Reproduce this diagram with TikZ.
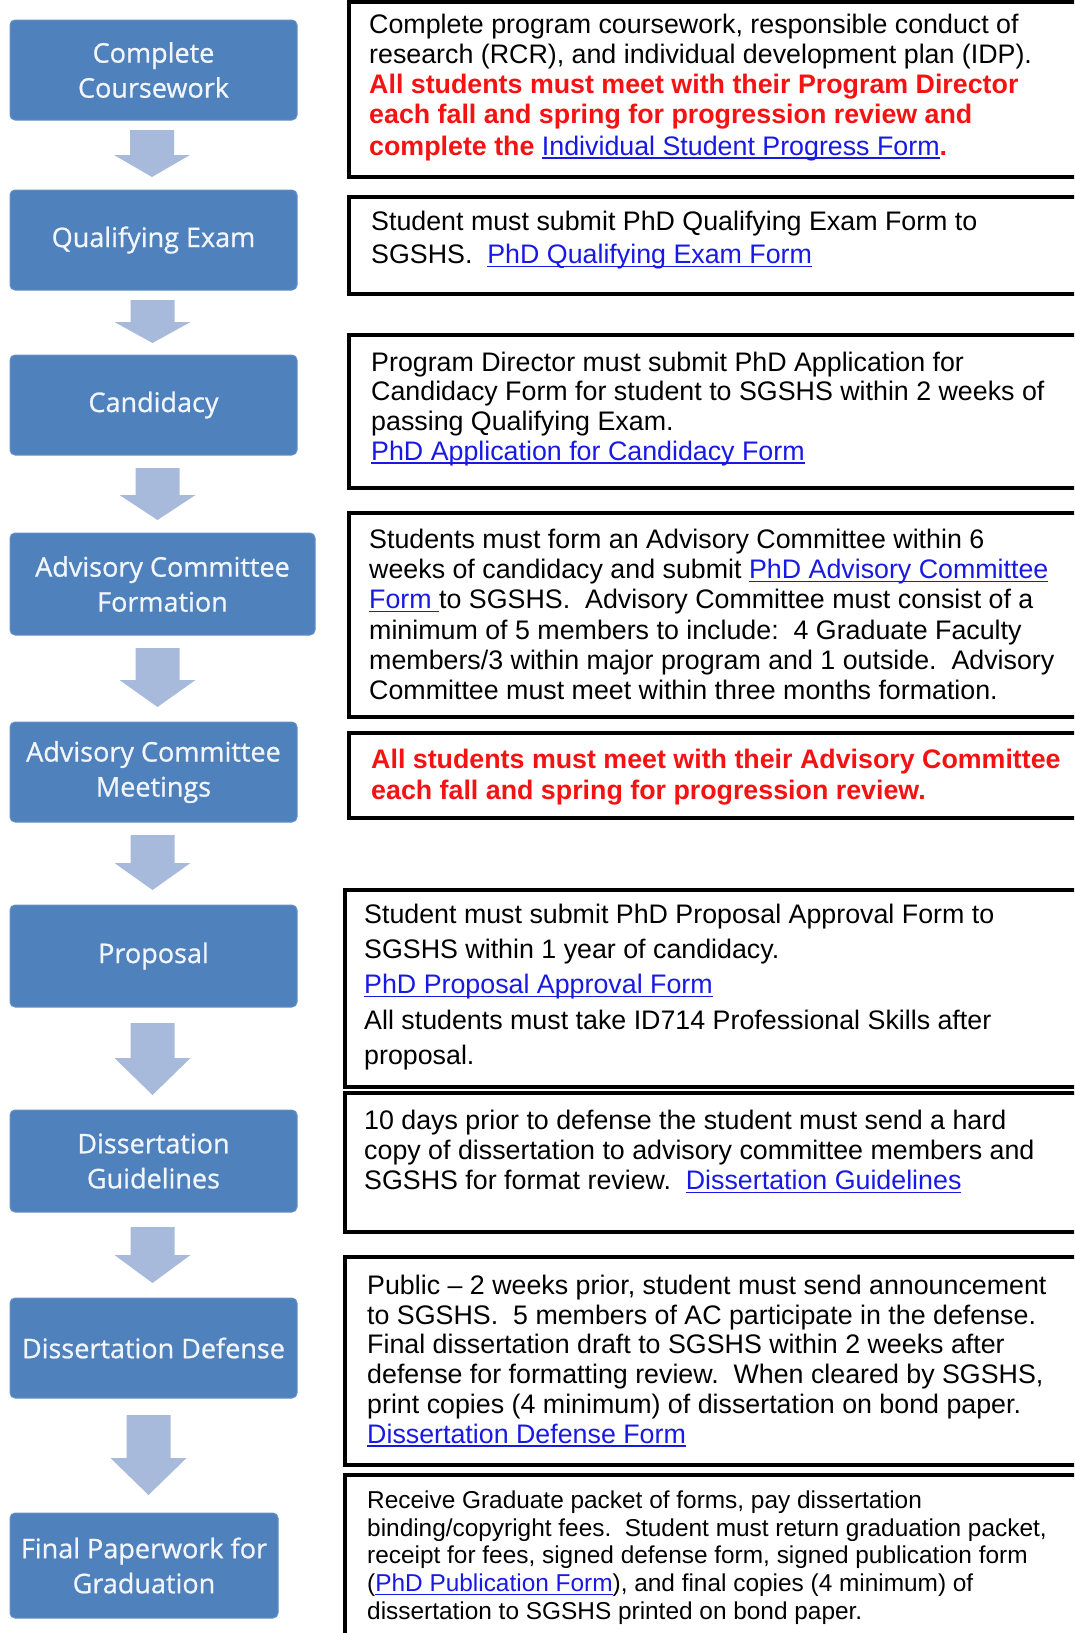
\documentclass[tikz,border=0pt]{standalone}
\usepackage{fontspec}
\setmainfont{Liberation Sans}
\newfontfamily\stepfont[FakeBold=0.8]{Open Sans}
\frenchspacing
\definecolor{stepblue}{RGB}{79,129,189}
\definecolor{stepedge}{RGB}{100,145,200}
\definecolor{arrowblue}{RGB}{167,186,219}
\definecolor{redtxt}{RGB}{245,18,18}
\definecolor{linkc}{RGB}{25,25,230}
\newsavebox{\lnkbox}
\newcommand\lnk[1]{{\color{linkc}\sbox{\lnkbox}{#1}\rlap{\rule[-3.5pt]{\wd\lnkbox}{1.5pt}}\usebox{\lnkbox}}}
\newcommand\rb[1]{{\bfseries\color{redtxt}#1}}
\newcommand\blockarrow[4]{%
  \fill[arrowblue] (#1-22,#2) -- (#1+22,#2) -- (#1+22,#3) -- (#1+38,#3) -- (#1,#4) -- (#1-38,#3) -- (#1-22,#3) -- cycle;}
\tikzset{
  stepbox/.style={fill=stepblue, draw=stepedge, line width=1pt, rounded corners=5pt,
    text={rgb,255:red,242;green,246;blue,251}, font=\stepfont\fontsize{27}{35}\selectfont,
    align=center, inner sep=0pt},
  infobox/.style={draw=black, line width=3.5pt},
  infotext/.style={anchor=north west, inner sep=0pt, align=left, text=black}
}
\begin{document}
\begin{tikzpicture}[x=1pt,y=-1pt]
\useasboundingbox (0,0) rectangle (1074,1633);
\fill[white] (0,0) rectangle (1074,1633);
\begin{scope}
\clip (0,0) rectangle (1074,1633);

% left step boxes
\node[stepbox, minimum width=287pt, minimum height=100pt] (b1) at (153.5,70) {Complete\\Coursework};
\node[stepbox, minimum width=287pt, minimum height=100pt] (b2) at (153.5,240) {Qualifying Exam};
\node[stepbox, minimum width=287pt, minimum height=100pt] (b3) at (153.5,405) {Candidacy};
\node[stepbox, minimum width=305pt, minimum height=102pt] (b4) at (162.5,584) {Advisory Committee\\Formation};
\node[stepbox, minimum width=287pt, minimum height=100pt] (b5) at (153.5,772) {Advisory Committee\\Meetings};
\node[stepbox, minimum width=287pt, minimum height=102pt] (b6) at (153.5,956) {Proposal};
\node[stepbox, minimum width=287pt, minimum height=102pt] (b7) at (153.5,1161) {Dissertation\\Guidelines};
\node[stepbox, minimum width=287pt, minimum height=100pt] (b8) at (153.5,1348) {Dissertation Defense};
\node[stepbox, minimum width=268pt, minimum height=105pt] (b9) at (144,1565.5) {Final Paperwork for\\Graduation};

% block arrows between steps
\blockarrow{152}{130}{155}{177}
\blockarrow{152.5}{300}{322}{343}
\blockarrow{157.5}{468}{495}{520}
\blockarrow{157.5}{648}{680}{707}
\blockarrow{152.5}{835}{863}{890}
\blockarrow{152.5}{1023}{1058}{1095}
\blockarrow{152.5}{1227}{1255}{1283}
\blockarrow{148.5}{1415}{1458}{1495}

% right information boxes
\draw[infobox] (349,1.8) rectangle (1095,177);
\draw[infobox] (349,197) rectangle (1095,294);
\draw[infobox] (349,335) rectangle (1095,488);
\draw[infobox] (349,513) rectangle (1095,717);
\draw[infobox] (349,733) rectangle (1095,818);
\draw[infobox] (345,890) rectangle (1095,1087);
\draw[infobox] (345,1093) rectangle (1095,1232);
\draw[infobox] (345,1257) rectangle (1095,1465);
\draw[infobox] (345,1475) rectangle (1095,1660);

\node[infotext, font=\fontsize{26.8}{30}\selectfont] (t1) at (369,11) {\rule{0pt}{22pt}Complete program coursework, responsible conduct of\\
research (RCR), and individual development plan (IDP).\\
\rb{All students must meet with their Program Director}\\
\rb{each fall and spring for progression review and}\\[2pt]
\rb{complete the }\lnk{Individual Student Progress Form}\rb{.}};

\node[infotext, font=\fontsize{26.8}{33.5}\selectfont] (t2) at (371,208) {\rule{0pt}{22pt}Student must submit PhD Qualifying Exam Form to\\
SGSHS.~ \lnk{PhD Qualifying Exam Form}};

\node[infotext, font=\fontsize{26.8}{29.7}\selectfont] (t3) at (371,349) {\rule{0pt}{22pt}Program Director must submit PhD Application for\\
Candidacy Form for student to SGSHS within 2 weeks of\\
passing Qualifying Exam.\\
\lnk{PhD Application for Candidacy Form}};

\node[infotext, font=\fontsize{26.8}{30.3}\selectfont] (t4) at (369,526) {\rule{0pt}{22pt}Students must form an Advisory Committee within 6\\
weeks of candidacy and submit \lnk{PhD Advisory Committee}\\
\lnk{Form~}to SGSHS.~ Advisory Committee must consist of a\\
minimum of 5 members to include:~ 4 Graduate Faculty\\
members/3 within major program and 1 outside.~ Advisory\\
Committee must meet within three months formation.};

\node[infotext, font=\fontsize{26.8}{31}\selectfont\bfseries, text=redtxt] (t5) at (371,746) {\rule{0pt}{22pt}All students must meet with their Advisory Committee\\
each fall and spring for progression review.};

\node[infotext, font=\fontsize{26.8}{35.3}\selectfont] (t6) at (364,901) {\rule{0pt}{22pt}Student must submit PhD Proposal Approval Form to\\
SGSHS within 1 year of candidacy.\\
\lnk{PhD Proposal Approval Form}\\
All students must take ID714 Professional Skills after\\
proposal.};

\node[infotext, font=\fontsize{26.8}{30.3}\selectfont] (t7) at (364,1107) {\rule{0pt}{22pt}10 days prior to defense the student must send a hard\\
copy of dissertation to advisory committee members and\\
SGSHS for format review.~ \lnk{Dissertation Guidelines}};

\node[infotext, font=\fontsize{26.8}{29.8}\selectfont] (t8) at (367,1272) {\rule{0pt}{22pt}Public – 2 weeks prior, student must send announcement\\
to SGSHS.~ 5 members of AC participate in the defense.\\
Final dissertation draft to SGSHS within 2 weeks after\\
defense for formatting review.~ When cleared by SGSHS,\\
print copies (4 minimum) of dissertation on bond paper.\\
\lnk{Dissertation Defense Form}};

\node[infotext, font=\fontsize{24.4}{27.8}\selectfont] (t9) at (367,1488) {\rule{0pt}{20pt}Receive Graduate packet of forms, pay dissertation\\
binding/copyright fees.~ Student must return graduation packet,\\
receipt for fees, signed defense form, signed publication form\\
(\lnk{PhD Publication Form}), and final copies (4 minimum) of\\
dissertation to SGSHS printed on bond paper.};
\end{scope}
\end{tikzpicture}
\end{document}
